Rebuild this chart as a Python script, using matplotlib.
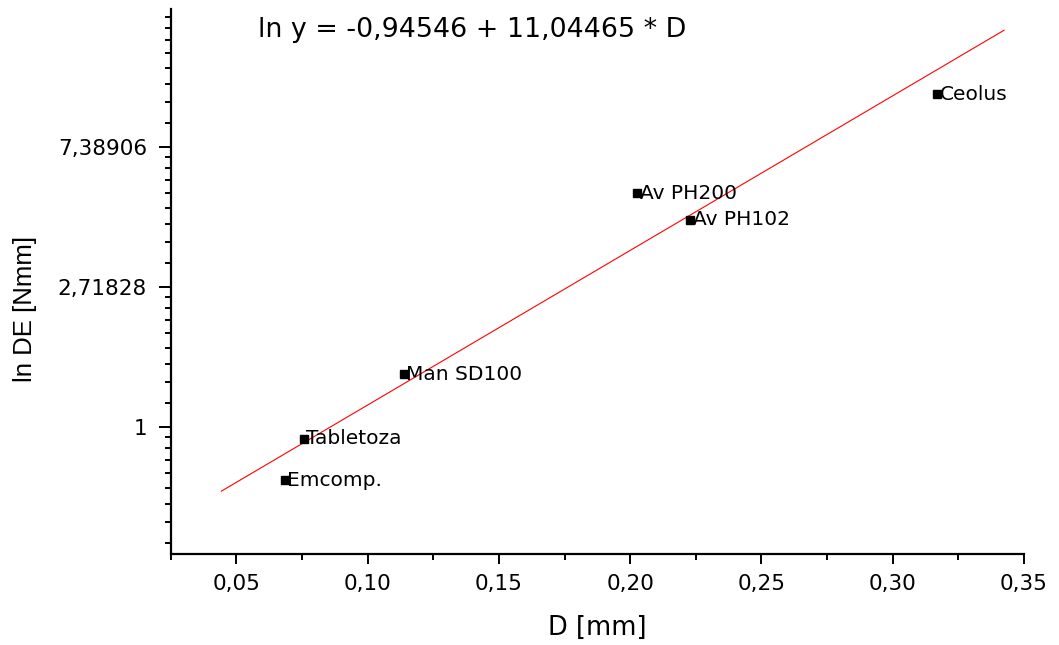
import matplotlib
matplotlib.use("Agg")
import matplotlib.pyplot as plt
import numpy as np
from matplotlib.ticker import FixedLocator, FixedFormatter, MultipleLocator, FuncFormatter, NullFormatter

# data
names = ["Emcomp.", "Tabletoza", "Man SD100", "Av PH200", "Av PH102", "Ceolus"]
D = [0.0684, 0.0756, 0.1137, 0.2027, 0.2229, 0.3169]
DE = [0.686, 0.920, 1.463, 5.33, 4.40, 10.81]

# fit line ln y = a + b*D
a = -0.94546
b = 11.04465
fit_range = [0.0443, 0.3424]

ytick_vals = [1, np.e, np.e**2]
ytick_labels = ["1", "2,71828", "7,38906"]

plt.rcParams['font.family'] = ['DejaVu Sans']

fig = plt.figure(figsize=(10.59, 6.45), dpi=100)
ax = fig.add_axes([0.1612, 0.1411, 0.8058, 0.845])

xf = np.linspace(fit_range[0], fit_range[1], 50)
ax.plot(xf, np.exp(a + b * xf), color='red', lw=0.8)
ax.plot(D, DE, 's', color='black', ms=5.5, zorder=3)
for n, x, y in zip(names, D, DE):
    ax.annotate(n, (x, y), xytext=(2, 0), textcoords='offset points',
                va='center', fontsize=14.5)

ax.set_yscale('log')
ax.set_xlim(0.025, 0.35)
ax.set_ylim(np.exp(-0.905), np.exp(2.988))

ax.yaxis.set_major_locator(FixedLocator(ytick_vals))
ax.yaxis.set_major_formatter(FixedFormatter(ytick_labels))
minor = []
for k in range(-1, 3):
    lo, hi = np.exp(k), np.exp(k + 1)
    minor += list(lo + (hi - lo) * np.arange(1, 9) / 9)
ax.yaxis.set_minor_locator(FixedLocator(minor))
ax.yaxis.set_minor_formatter(NullFormatter())

ax.xaxis.set_major_locator(MultipleLocator(0.05))
ax.xaxis.set_minor_locator(MultipleLocator(0.025))
ax.xaxis.set_major_formatter(FuncFormatter(lambda v, p: f"{v:.2f}".replace('.', ',')))

for s in ['top', 'right']:
    ax.spines[s].set_visible(False)
for s in ['left', 'bottom']:
    ax.spines[s].set_linewidth(1.6)

ax.tick_params(axis='x', which='major', length=7.5, width=1.4, pad=7, labelsize=15.5)
ax.tick_params(axis='x', which='minor', length=4, width=1.4)
ax.tick_params(axis='y', which='major', length=9, width=1.4, pad=8, labelsize=15.5)
ax.tick_params(axis='y', which='minor', length=4, width=1.4)

ax.set_xlabel("D [mm]", fontsize=18.5)
ax.xaxis.label.set_va('center')
ax.xaxis.set_label_coords(0.5, -0.136)
ax.set_ylabel("ln DE [Nmm]", fontsize=18.5, family=['Liberation Sans', 'DejaVu Sans'])
ax.yaxis.label.set_va('center')
ax.yaxis.set_label_coords(-0.171, 0.45)

ax.text(0.1023, 0.9486, "ln y = -0,94546 + 11,04465 * D", transform=ax.transAxes,
        fontsize=19.4, va='baseline')

fig.savefig('out.png', dpi=100)
